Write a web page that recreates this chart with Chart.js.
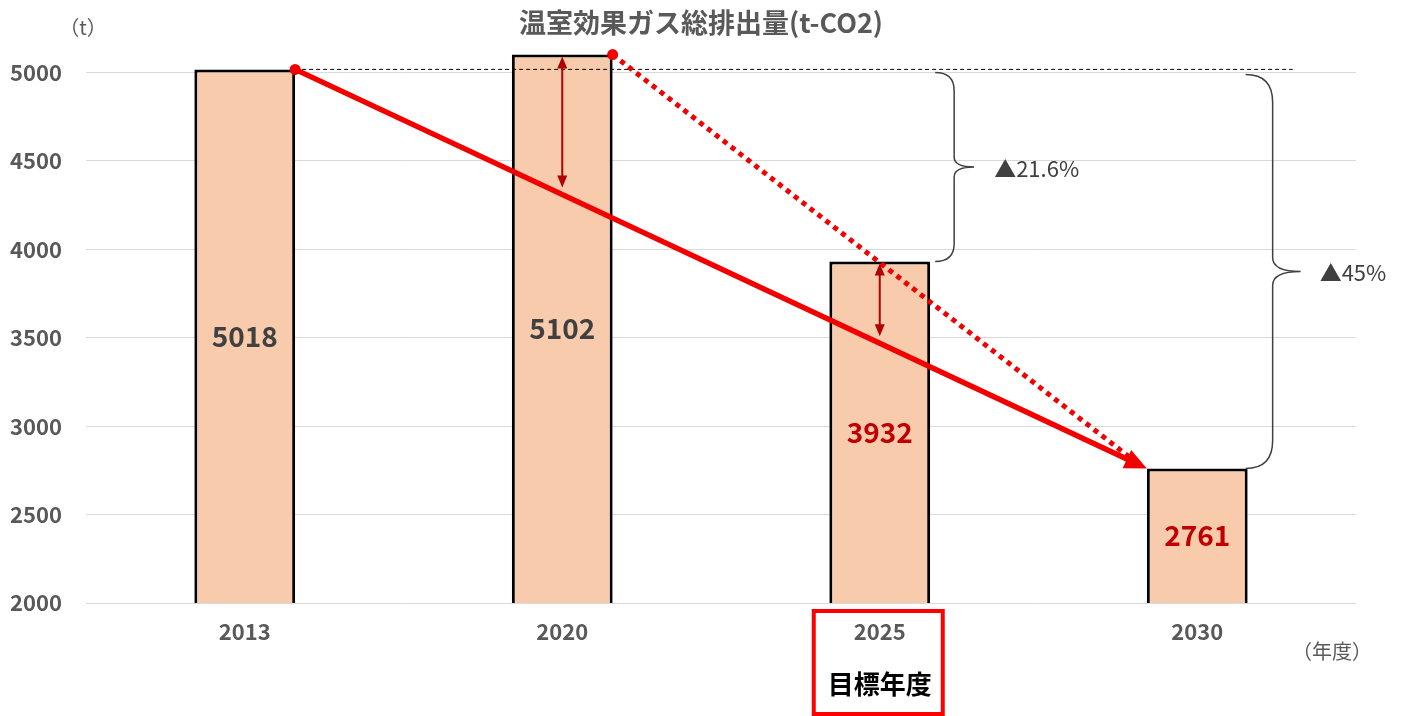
<!DOCTYPE html>
<html>
<head>
<meta charset="utf-8">
<script src="https://cdn.jsdelivr.net/npm/chart.js@4/dist/chart.umd.min.js"></script>
<style>
html,body{margin:0;padding:0;background:#fff;}
#wrap{width:1401px;height:716px;position:relative;}
</style>
</head>
<body>
<div id="wrap"><canvas id="c" width="1401" height="716"></canvas></div>
<script>
const categories = ['2013', '2020', '2025', '2030'];
const emissions = [5018, 5102, 3932, 2761];
const yTicks = [2000, 2500, 3000, 3500, 4000, 4500, 5000];
const yMin = 2000, yMax = 5200;
const titleText = '温室効果ガス総排出量(t-CO2)';
const yUnit = '（t）';
const xUnit = '（年度）';
const targetLabel = '目標年度';
const targetIndex = 2;
const reductionLabels = ['▲21.6%', '▲45%'];

const JP = '"Noto Sans CJK JP", "Noto Sans", sans-serif';

function barGeom(chart, i) {
  const el = chart.getDatasetMeta(0).data[i];
  const bottom = Math.min(el.base, chart.chartArea.bottom);
  return { x: el.x, left: el.x - el.width / 2, right: el.x + el.width / 2, top: el.y, base: bottom };
}

function arrowHead(ctx, x1, y1, x2, y2, len, half) {
  const a = Math.atan2(y2 - y1, x2 - x1);
  ctx.beginPath();
  ctx.moveTo(x2, y2);
  ctx.lineTo(x2 - len * Math.cos(a) + half * Math.sin(a), y2 - len * Math.sin(a) - half * Math.cos(a));
  ctx.lineTo(x2 - len * Math.cos(a) - half * Math.sin(a), y2 - len * Math.sin(a) + half * Math.cos(a));
  ctx.closePath();
  ctx.fill();
}

function brace(ctx, x0, xv, xt, yTop, yBot, rEnd, rMid) {
  const ym = (yTop + yBot) / 2;
  ctx.beginPath();
  ctx.moveTo(x0, yTop);
  ctx.quadraticCurveTo(xv, yTop, xv, yTop + rEnd);
  ctx.lineTo(xv, ym - rMid);
  ctx.quadraticCurveTo(xv, ym, xt, ym);
  ctx.quadraticCurveTo(xv, ym, xv, ym + rMid);
  ctx.lineTo(xv, yBot - rEnd);
  ctx.quadraticCurveTo(xv, yBot, x0, yBot);
  ctx.stroke();
}

const overlay = {
  id: 'overlay',
  afterDatasetsDraw(chart) {
    const ctx = chart.ctx;
    const y = chart.scales.y;
    const area = chart.chartArea;
    const b = categories.map((_, i) => barGeom(chart, i));
    ctx.save();

    // data labels
    ctx.textAlign = 'center';
    ctx.textBaseline = 'middle';
    ctx.font = 'bold 28px ' + JP;
    emissions.forEach((v, i) => {
      ctx.fillStyle = i < 2 ? '#404040' : '#C00000';
      ctx.fillText(String(v), b[i].x, (b[i].top + b[i].base) / 2);
    });

    // dashed reference line at 2013 level
    ctx.strokeStyle = '#000';
    ctx.lineWidth = 1;
    ctx.setLineDash([4, 3]);
    ctx.beginPath();
    ctx.moveTo(b[0].right, y.getPixelForValue(emissions[0]));
    ctx.lineTo(b[3].right + 45, y.getPixelForValue(emissions[0]));
    ctx.stroke();
    ctx.setLineDash([]);

    const red = '#F20000';
    const p0 = { x: b[0].right, y: b[0].top };
    const p1 = { x: b[1].right, y: b[1].top };
    const p3 = { x: b[3].left, y: b[3].top };

    // dotted line 2020 -> 2030
    ctx.strokeStyle = red;
    ctx.lineWidth = 5;
    ctx.setLineDash([5, 5]);
    ctx.beginPath();
    ctx.moveTo(p1.x, p1.y);
    ctx.lineTo(p3.x - 8, p3.y - 4);
    ctx.stroke();
    ctx.setLineDash([]);

    // solid line 2013 -> 2030 with arrowhead
    ctx.lineWidth = 5.5;
    const ang = Math.atan2(p3.y - p0.y, p3.x - p0.x);
    ctx.beginPath();
    ctx.moveTo(p0.x, p0.y);
    ctx.lineTo(p3.x - 18 * Math.cos(ang), p3.y - 18 * Math.sin(ang));
    ctx.stroke();
    ctx.fillStyle = red;
    arrowHead(ctx, p0.x, p0.y, p3.x, p3.y, 22, 10);

    // dots
    [p0, p1].forEach(p => { ctx.beginPath(); ctx.arc(p.x, p.y, 5.5, 0, Math.PI * 2); ctx.fill(); });

    // double arrows to solid line
    const lineY = x => p0.y + (x - p0.x) * (p3.y - p0.y) / (p3.x - p0.x);
    ctx.strokeStyle = '#B00000';
    ctx.fillStyle = '#B00000';
    ctx.lineWidth = 2;
    [1, 2].forEach(i => {
      const x = b[i].x;
      const yt = b[i].top + 2;
      const yb = lineY(x) - 7;
      ctx.beginPath();
      ctx.moveTo(x, yt + 8);
      ctx.lineTo(x, yb - 8);
      ctx.stroke();
      arrowHead(ctx, x, yb, x, yt, 12, 5);
      arrowHead(ctx, x, yt, x, yb, 12, 5);
    });

    // braces
    ctx.strokeStyle = '#404040';
    ctx.lineWidth = 1.5;
    const yTop = y.getPixelForValue(emissions[0]) + 3;
    brace(ctx, b[2].right + 5, b[2].right + 24, b[2].right + 44, yTop, b[2].top, 18, 10);
    brace(ctx, b[3].right - 2, b[3].right + 25, b[3].right + 53, yTop + 2, b[3].top, 28, 14);

    ctx.fillStyle = '#404040';
    ctx.font = '22px ' + JP;
    ctx.textAlign = 'left';
    ctx.fillText(reductionLabels[0], b[2].right + 64, (yTop + b[2].top) / 2 + 2);
    ctx.fillText(reductionLabels[1], b[3].right + 72, (yTop + 2 + b[3].top) / 2 + 1);

    // title and units
    ctx.textAlign = 'center';
    ctx.fillStyle = '#595959';
    ctx.font = 'bold 27px ' + JP;
    ctx.fillText(titleText, 701, 23);
    ctx.font = '20px ' + JP;
    ctx.fillText(yUnit, 83, 27);
    ctx.fillText(xUnit, 1332, 651);

    // target year label + box
    const tx = b[targetIndex].x;
    ctx.fillStyle = '#000';
    ctx.font = 'bold 26px ' + JP;
    ctx.fillText(targetLabel, tx, 684);
    ctx.strokeStyle = '#FF0000';
    ctx.lineWidth = 4;
    ctx.strokeRect(tx - 66, area.bottom + 8, 129, 103);

    ctx.restore();
  }
};

new Chart(document.getElementById('c'), {
  type: 'bar',
  data: {
    labels: categories,
    datasets: [{
      data: emissions,
      backgroundColor: '#F8CBAD',
      borderColor: '#000000',
      borderWidth: 3,
      borderSkipped: false,
      barPercentage: 0.635,
      categoryPercentage: 0.5
    }]
  },
  options: {
    responsive: false,
    animation: false,
    devicePixelRatio: 1,
    layout: { padding: { top: 0, left: 0, right: 45, bottom: 0 } },
    plugins: { legend: { display: false }, tooltip: { enabled: false }, title: { display: false } },
    scales: {
      x: {
        grid: { display: false, drawTicks: false },
        border: { display: false },
        ticks: { color: '#595959', font: { family: JP, size: 22, weight: 'bold' }, padding: 15 },
        afterFit: s => { s.height = 113; }
      },
      y: {
        min: yMin,
        max: yMax,
        grid: { drawTicks: false, lineWidth: 1, color: '#D9D9D9' },
        border: { display: false },
        ticks: {
          autoSkip: false,
          color: '#595959',
          font: { family: JP, size: 22, weight: 'bold' },
          padding: 24,
          callback: v => String(v)
        },
        afterBuildTicks: s => { s.ticks = yTicks.map(v => ({ value: v })); },
        afterFit: s => { s.width = 86; }
      }
    }
  },
  plugins: [overlay]
});
</script>
</body>
</html>
